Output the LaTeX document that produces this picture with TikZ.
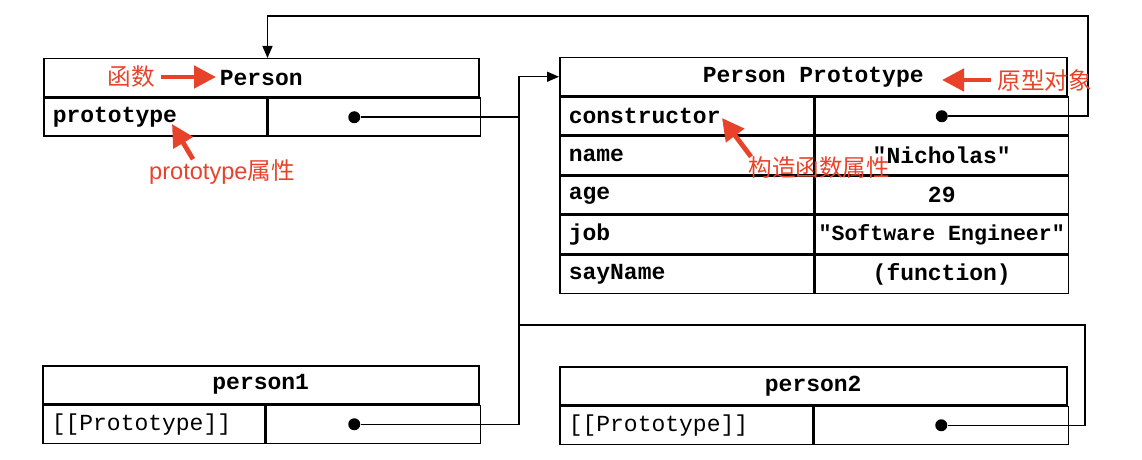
\documentclass[tikz,border=0pt]{standalone}
\usepackage{fontspec}
\setmonofont{Liberation Mono}
\newfontfamily\cjk{Noto Sans CJK SC}
\newfontfamily\lat{Liberation Sans}
\usetikzlibrary{arrows.meta,positioning}
\definecolor{notered}{HTML}{E8432A}
\begin{document}
\begin{tikzpicture}[x=0.5pt,y=-0.5pt,
cell/.style={draw,line width=0.75pt,anchor=north west,minimum height=19pt,inner sep=0pt,font=\ttfamily\bfseries\fontsize{11.5}{13}\selectfont},
keycell/.style={cell,text width=#1,align=left,inner xsep=4.5pt},
valcell/.style={cell,minimum width=#1},
refdot/.style={circle,fill=black,inner sep=0pt,minimum size=6pt},
link/.style={line width=0.75pt},
ptr/.style={-{Triangle[length=6pt,width=5pt]}},
remark/.style={text=notered,inner sep=0pt,font=\cjk\fontsize{11.8}{14}\selectfont},
notearrow/.style={draw=notered,line width=2.4pt,-{Triangle[length=11pt,width=11pt]}}]
\useasboundingbox (0,0) rectangle (1142,460);
% Person
\node[cell,minimum width=217.5pt] (personhead) at (43,58) {Person};
\node[keycell=102.5pt] (personkey) at (personhead.south west) {prototype};
\node[valcell=106pt] (personval) at (personkey.north east) {};
\node[refdot] (pdot) at ([xshift=-10pt]personval.center) {};
% Person Prototype
\node[cell,minimum width=253.5pt] (protohead) at (559,57) {Person Prototype};
\node[keycell=118pt] (ctorkey) at (protohead.south west) {constructor};
\node[valcell=126.5pt] (ctorval) at (ctorkey.north east) {};
\node[keycell=118pt] (namekey) at (ctorkey.south west) {name};
\node[valcell=126.5pt] (nameval) at (namekey.north east) {"Nicholas"};
\node[keycell=118pt] (agekey) at (namekey.south west) {age};
\node[valcell=126.5pt] (ageval) at (agekey.north east) {29};
\node[keycell=118pt] (jobkey) at (agekey.south west) {job};
\node[valcell=126.5pt,font=\ttfamily\bfseries\fontsize{10.8}{13}\selectfont] (jobval) at (jobkey.north east) {"Software Engineer"};
\node[keycell=118pt] (saykey) at (jobkey.south west) {sayName};
\node[valcell=126.5pt] (sayval) at (saykey.north east) {(function)};
\node[refdot] (cdot) at (ctorval.center) {};
% person1 and person2
\node[cell,minimum width=218pt] (p1head) at (42,365) {person1};
\node[keycell=102pt,font=\ttfamily\fontsize{11.5}{13}\selectfont] (p1key) at (p1head.south west) {[[Prototype]]};
\node[valcell=107pt] (p1val) at (p1key.north east) {};
\node[refdot] (p1dot) at ([xshift=-9.5pt]p1val.center) {};
\node[cell,minimum width=253.5pt] (p2head) at (559,366) {person2};
\node[keycell=117.5pt,font=\ttfamily\fontsize{11.5}{13}\selectfont] (p2key) at (p2head.south west) {[[Prototype]]};
\node[valcell=127pt] (p2val) at (p2key.north east) {};
\node[refdot] (p2dot) at (p2val.center) {};
% pointers
\coordinate (trunk) at ([xshift=-20pt]protohead.west);
\coordinate (p2turn) at (1085,325);
\coordinate (ctorturn) at (1088,16);
\draw[link,ptr] (p1dot) -| (trunk) -- (protohead);
\draw[link] (pdot) -- (pdot -| trunk);
\draw[link] (p2dot) -| (p2turn) -- (p2turn -| trunk);
\draw[link,ptr] (cdot) -| (ctorturn) -| (personhead.north -| personkey.east);
% notes
\node[remark] (fnnote) at (131,77) {函数};
\coordinate (fntip) at (216,77);
\draw[notearrow] ([xshift=3pt]fnnote.east) -- (fntip);
\node[remark,anchor=west] (protonote) at (997,80) {原型对象};
\coordinate (prototip) at (942,80);
\draw[notearrow] ([xshift=-3pt]protonote.west) -- (prototip);
\node[remark] (ptnote) at (222,172) {{\lat prototype}属性};
\coordinate (pttip) at (172,124);
\draw[notearrow] ([xshift=-14.5pt]ptnote.north) -- (pttip);
\node[remark,anchor=west] (ctornote) at (748,168) {构造函数属性};
\coordinate (ctortip) at (722,118);
\draw[notearrow] ([xshift=1.5pt]ctornote.north west) -- (ctortip);
\end{tikzpicture}
\end{document}
